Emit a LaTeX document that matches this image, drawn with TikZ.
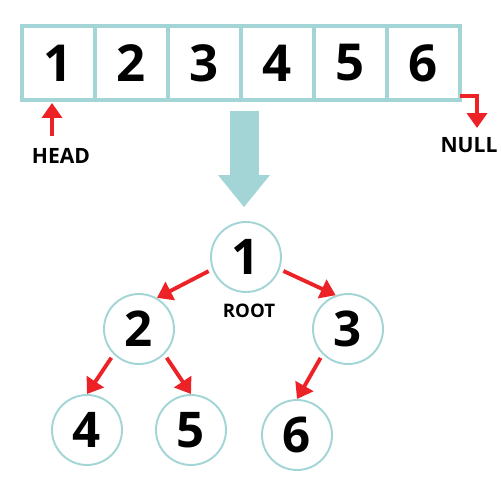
\documentclass[tikz,border=0pt]{standalone}
\usepackage{fontspec}
\setmainfont{Open Sans}
\usetikzlibrary{arrows.meta, positioning}
\definecolor{listteal}{HTML}{A3D5D6}
\definecolor{ptrred}{HTML}{EC2227}

\begin{document}
\begin{tikzpicture}[
    x=0.02cm, y=-0.02cm,
    cell/.style={rectangle, draw=listteal, line width=2pt, outer sep=0pt,
                minimum width=1.46cm, minimum height=1.48cm, inner sep=0pt,
                font=\fontsize{29}{30}\selectfont\bfseries},
    treenode/.style={circle, draw=listteal, line width=1.1pt,
                minimum size=1.4cm, inner sep=0pt,
                font=\fontsize{28}{30}\selectfont\bfseries},
    tag/.style={inner sep=1pt, font=\fontsize{12}{14}\selectfont\bfseries},
    redarrow/.style={-{Triangle[width=0.4cm, length=0.3cm]}, draw=ptrred,
                line width=2.2pt},
    bigarrow/.style={-{Triangle[width=1.04cm, length=0.64cm, line width=0pt]},
                draw=listteal, line width=0.58cm},
    node distance=0pt
]
\useasboundingbox (0,0) rectangle (500,500);

%% LINKED LIST
\node[cell] (c1) at (58.5,63) {1};
\node[cell, right=of c1] (c2) {2};
\node[cell, right=of c2] (c3) {3};
\node[cell, right=of c3] (c4) {4};
\node[cell, right=of c4] (c5) {5};
\node[cell, right=of c5] (c6) {6};

\node[tag] (head) at (61,156) {HEAD};
\node[tag] (null) at (469,145) {NULL};

\coordinate (headtail) at (52,136);
\coordinate (nullend) at (477,128);

\draw[redarrow, shorten >=0.06cm] (headtail) -- (headtail |- c1.south);
\draw[redarrow] ([yshift=0.08cm]c6.south east) -| (nullend);

%% BINARY TREE
\node[treenode] (r1) at (246,257) {1};
\node[treenode] (r2) at (139,329) {2};
\node[treenode] (r3) at (348,329) {3};
\node[treenode] (r4) at (87,430) {4};
\node[treenode] (r5) at (191,430) {5};
\node[treenode] (r6) at (297,435) {6};

\node[tag, font=\fontsize{10.6}{12}\selectfont\bfseries] (rootlbl) at (249,311) {ROOT};

\coordinate (bigtop) at (244,111);
\draw[bigarrow, shorten >=0.28cm] (bigtop) -- (bigtop |- r1.north);

\draw[redarrow, shorten <=0.08cm] (r1.200) -- (r2.60);
\draw[redarrow, shorten <=0.08cm] (r1.340) -- (r3.110);
\draw[redarrow, shorten <=0.08cm] (r2.south west) -- (r4.north);
\draw[redarrow, shorten <=0.08cm] (r2.south east) -- (r5.north);
\draw[redarrow, shorten <=0.08cm] (r3.south west) -- (r6.north);

\end{tikzpicture}
\end{document}
